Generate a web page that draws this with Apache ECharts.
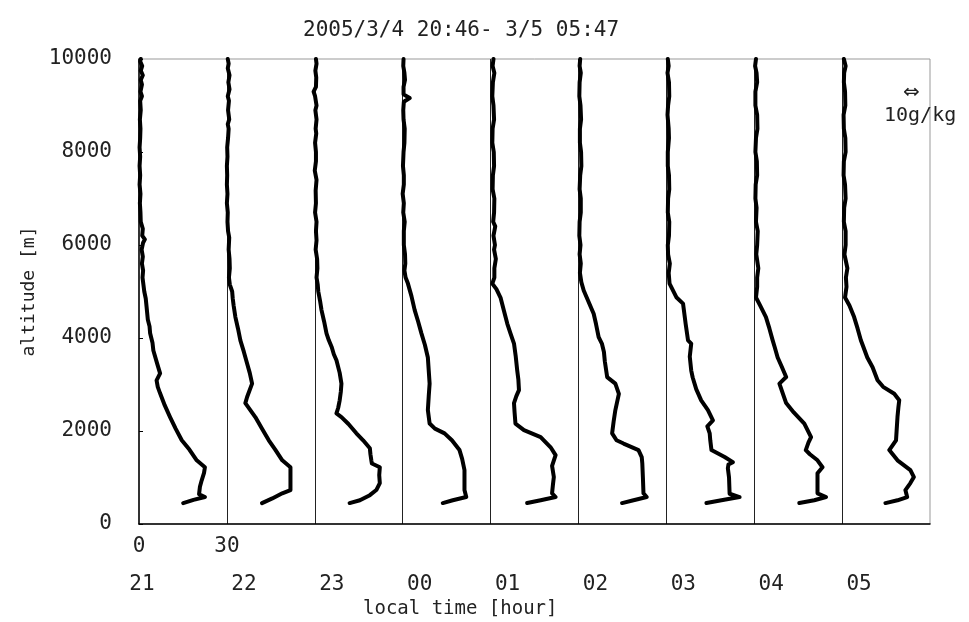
<!DOCTYPE html>
<html>
<head>
<meta charset="utf-8">
<script src="https://cdn.jsdelivr.net/npm/echarts@6/dist/echarts.min.js"></script>
<style>html,body{margin:0;padding:0;background:#fff;}#c{width:969px;height:622px;}</style>
</head>
<body>
<div id="c"></div>
<script>
// ---- data ----
const titleText = '2005/3/4 20:46- 3/5 05:47';
const hourLabels = ['21', '22', '23', '00', '01', '02', '03', '04', '05'];
const scaleLabels = ['0', '30'];           // g/kg scale of one panel
const panelWidth = 30;                     // g/kg per hour panel

// [altitude m, water vapour mixing ratio g/kg] for each launch
const p21 = [[450,15.1],[520,18.6],[580,22.5],[640,20.5],[800,20.8],[940,21.4],[1100,22.2],[1220,22.5],[1370,19.7],[1600,17.2],[1800,14.6],[2050,12.5],[2300,10.6],[2550,8.8],[2810,7.2],[2950,6.4],[3090,6.0],[3240,7.2],[3450,6.2],[3730,4.9],[3900,4.6],[4100,3.8],[4250,3.6],[4400,3.0],[4660,2.6],[4850,2.3],[5000,1.8],[5150,1.5],[5300,1.2],[5450,1.4],[5600,1.0],[5750,1.3],[5900,0.9],[6050,1.4],[6120,2.0],[6200,1.1],[6350,1.3],[6500,0.6],[6700,0.5],[6900,0.3],[7100,0.5],[7300,0.2],[7500,0.4],[7700,0.2],[7900,0.4],[8100,0.2],[8300,0.4],[8500,0.5],[8700,0.3],[8900,0.6],[9100,0.4],[9200,1.0],[9300,0.5],[9450,1.0],[9550,0.6],[9650,1.3],[9750,0.6],[9850,1.1],[9950,0.4],[10000,0.6]];
const p22 = [[450,12.0],[550,15.5],[660,18.9],[730,21.7],[1000,21.7],[1220,21.7],[1370,18.9],[1600,16.5],[1800,14.3],[2050,12.0],[2300,9.7],[2450,8.0],[2600,6.3],[2730,6.9],[3020,8.6],[3250,7.8],[3450,6.9],[3700,5.8],[3950,4.6],[4200,3.8],[4450,2.9],[4700,2.3],[4850,2.0],[5000,1.8],[5150,1.0],[5300,0.7],[5500,1.0],[5700,0.9],[5900,0.6],[6160,0.8],[6300,0.4],[6500,0.2],[6700,0.3],[6900,0.0],[7100,0.2],[7300,0.0],[7500,0.1],[7700,0.0],[7900,0.2],[8100,0.1],[8300,0.4],[8500,0.6],[8600,0.3],[8700,0.8],[8900,0.4],[9100,0.7],[9200,0.3],[9350,0.9],[9500,0.5],[9650,0.9],[9800,0.3],[9900,0.6],[10000,0.3]];
const p23 = [[450,11.9],[510,15.4],[620,18.8],[730,21.0],[880,22.2],[1050,22.0],[1220,22.2],[1300,19.5],[1370,19.3],[1500,19.0],[1630,18.8],[1800,16.5],[1950,14.2],[2150,11.5],[2300,9.1],[2380,7.4],[2500,8.0],[2660,8.5],[2850,8.9],[3020,9.1],[3250,8.5],[3520,7.4],[3650,6.5],[3800,5.8],[3950,4.8],[4100,4.0],[4350,3.2],[4600,2.3],[4800,1.8],[5000,1.2],[5150,1.0],[5300,0.6],[5500,0.9],[5700,0.8],[5900,0.3],[6100,0.6],[6300,0.4],[6500,0.6],[6700,0.1],[6900,0.4],[7170,0.3],[7400,0.6],[7600,0.0],[7800,0.4],[8000,0.4],[8200,0.1],[8400,0.5],[8500,0.3],[8700,0.6],[8900,0.2],[9000,0.6],[9200,0.1],[9300,-0.4],[9400,0.4],[9600,0.5],[9750,0.2],[9900,0.6],[10000,0.4]];
const p00 = [[450,13.7],[510,17.1],[580,21.7],[730,21.1],[950,21.1],[1160,21.1],[1400,20.3],[1590,19.4],[1800,16.8],[1950,14.3],[2050,11.0],[2160,9.2],[2450,8.6],[2750,8.9],[3020,9.2],[3300,8.9],[3580,8.6],[3850,7.6],[4100,6.4],[4350,5.3],[4600,4.1],[4900,3.0],[5170,1.8],[5300,1.0],[5450,0.6],[5600,0.9],[5800,0.8],[6000,0.4],[6300,0.4],[6500,0.7],[6700,0.2],[6900,0.4],[7100,0.0],[7300,0.4],[7500,0.4],[7700,0.1],[8000,0.3],[8200,0.6],[8500,0.7],[8700,0.3],[8900,0.2],[9080,0.4],[9160,2.4],[9240,0.3],[9400,0.3],[9550,0.8],[9700,0.6],[9850,0.2],[10000,0.3]];
const p01 = [[450,12.5],[510,17.1],[580,22.2],[660,21.0],[850,21.3],[1010,21.6],[1250,21.0],[1480,22.2],[1650,20.5],[1870,17.1],[2020,11.4],[2160,8.5],[2400,8.2],[2600,8.0],[2750,8.8],[2880,9.7],[3100,9.5],[3300,9.1],[3600,8.6],[3880,8.0],[4100,6.8],[4310,5.7],[4600,4.5],[4870,3.4],[5050,2.0],[5170,0.6],[5300,1.3],[5500,1.3],[5700,1.8],[5900,1.2],[6000,1.5],[6200,1.0],[6400,1.6],[6500,0.9],[6700,1.2],[7000,1.3],[7200,0.7],[7500,0.8],[7700,1.2],[8000,1.1],[8200,0.6],[8500,0.7],[8700,1.2],[9000,1.0],[9200,0.6],[9500,0.8],[9700,1.3],[9850,0.7],[10000,1.0]];
const p02 = [[450,14.9],[510,18.8],[580,23.3],[660,22.2],[1000,22.0],[1300,21.8],[1440,21.6],[1590,20.5],[1730,15.4],[1800,13.0],[1950,11.5],[2200,12.0],[2450,12.6],[2800,13.8],[3020,12.6],[3160,9.8],[3500,9.0],[3700,8.7],[3880,8.0],[4020,6.9],[4300,6.0],[4520,5.2],[4800,3.3],[5020,1.8],[5200,1.0],[5400,0.5],[5600,0.8],[5800,0.4],[6000,0.7],[6200,0.3],[6500,0.4],[6700,0.8],[7000,0.8],[7200,0.4],[7500,0.6],[7700,1.0],[8000,0.9],[8200,0.5],[8500,0.5],[8700,0.9],[9000,0.7],[9200,0.3],[9500,0.4],[9700,0.8],[9850,0.4],[10000,0.6]];
const p03 = [[450,13.7],[510,18.8],[580,25.0],[650,21.6],[1000,21.4],[1200,21.0],[1280,21.2],[1330,22.7],[1440,19.9],[1590,15.4],[1800,15.0],[1950,14.8],[2100,14.0],[2230,15.9],[2450,14.2],[2660,11.9],[2900,10.2],[3150,9.0],[3300,8.5],[3600,8.0],[3880,8.5],[3950,7.4],[4300,6.6],[4740,5.7],[4870,3.5],[5020,2.3],[5170,1.1],[5400,0.8],[5600,1.2],[5800,0.6],[6000,0.5],[6200,0.9],[6500,1.0],[6700,0.5],[7000,0.6],[7200,1.0],[7500,0.9],[7700,0.5],[8000,0.5],[8300,0.9],[8500,0.8],[8800,0.4],[9000,0.6],[9200,1.0],[9500,0.9],[9700,0.4],[9850,0.8],[10000,0.5]];
const p04 = [[450,15.4],[510,20.5],[580,24.5],[660,21.6],[1090,21.6],[1220,23.3],[1370,21.6],[1500,19.0],[1590,17.6],[1750,18.5],[1870,19.4],[2160,17.1],[2400,13.5],[2600,10.9],[2800,9.8],[3020,8.6],[3160,10.9],[3380,9.4],[3580,8.0],[3800,7.0],[3950,6.3],[4200,5.2],[4450,4.0],[4700,2.0],[4870,0.6],[5100,1.0],[5300,1.0],[5500,1.4],[5800,0.7],[6000,1.0],[6300,1.2],[6500,0.6],[6800,0.8],[7000,0.4],[7300,0.5],[7500,1.0],[7800,0.9],[8000,0.4],[8300,0.6],[8500,1.1],[8800,1.0],[9000,0.4],[9300,0.4],[9500,1.0],[9700,0.8],[9850,0.3],[10000,0.6]];
const p05 = [[450,14.8],[510,18.9],[580,22.2],[730,21.6],[880,23.3],[1010,24.5],[1160,23.3],[1370,18.9],[1590,16.1],[1800,18.4],[2000,18.6],[2300,18.9],[2500,19.2],[2660,19.5],[2800,17.8],[2950,14.0],[3090,12.1],[3370,10.4],[3580,8.6],[3800,7.3],[3950,6.4],[4200,5.3],[4450,4.1],[4700,2.5],[4870,1.0],[5100,1.5],[5300,1.3],[5500,1.8],[5800,0.8],[6000,1.2],[6300,1.2],[6500,0.6],[6800,0.7],[7000,1.2],[7300,1.0],[7500,0.5],[7800,0.6],[8000,1.2],[8300,1.1],[8500,0.6],[8800,0.5],[9000,1.1],[9300,1.0],[9500,0.6],[9700,0.7],[9850,1.2],[10000,0.6]];

const profiles = [p21, p22, p23, p00, p01, p02, p03, p04, p05];

// ---- chart ----
const FONT = 'DejaVu Sans Mono';
const TXT = '#222';
const xMax = panelWidth * hourLabels.length;

const series = profiles.map((prof, i) => ({
  type: 'line',
  showSymbol: false,
  silent: true,
  animation: false,
  lineStyle: { color: '#000', width: 4, join: 'round', cap: 'round' },
  data: prof.map(([a, q]) => [i * panelWidth + q, a])
}));

const chart = echarts.init(document.getElementById('c'), null, { renderer: 'canvas' });
chart.setOption({
  animation: false,
  backgroundColor: '#fff',
  title: [
    { text: titleText, left: 298, top: 15,
      textStyle: { fontFamily: FONT, fontSize: 21, fontWeight: 'normal', color: TXT } },
    { text: 'local time [hour]', left: 358, top: 595,
      textStyle: { fontFamily: FONT, fontSize: 19, fontWeight: 'normal', color: TXT } }
  ],
  grid: { left: 139, right: 39, top: 59, bottom: 98, show: true, borderColor: '#999', borderWidth: 1, backgroundColor: '#fff' },
  xAxis: [
    {
      type: 'value', min: 0, max: xMax, interval: panelWidth, position: 'bottom',
      axisLine: { show: true, onZero: false, lineStyle: { color: '#000', width: 1.5 } },
      axisTick: { show: false },
      splitLine: { show: true, showMinLine: false, showMaxLine: false, lineStyle: { color: '#222', width: 1 } },
      axisLabel: {
        margin: 12, color: TXT, fontFamily: FONT, fontSize: 21,
        formatter: (v) => { const k = Math.round(v / panelWidth); return k < scaleLabels.length ? scaleLabels[k] : ''; }
      }
    },
    {
      type: 'value', min: 0, max: xMax, interval: panelWidth, position: 'bottom',
      axisLine: { show: false }, axisTick: { show: false }, splitLine: { show: false },
      axisLabel: {
        margin: 50, color: TXT, fontFamily: FONT, fontSize: 21,
        showMaxLabel: false,
        formatter: (v) => {
          const k = Math.round(v / panelWidth);
          if (k >= hourLabels.length) return '';
          return k === 0 ? '{a|' + hourLabels[k] + '}' : '{b|' + hourLabels[k] + '}';
        },
        rich: {
          a: { fontFamily: FONT, fontSize: 21, color: TXT, padding: [0, 0, 0, 6] },
          b: { fontFamily: FONT, fontSize: 21, color: TXT, padding: [0, 0, 0, 34] }
        }
      }
    }
  ],
  yAxis: {
    type: 'value', min: 0, max: 10000, interval: 2000,
    name: 'altitude [m]', nameLocation: 'middle', nameGap: 90, nameRotate: 90,
    nameTextStyle: { fontFamily: FONT, fontSize: 18, color: TXT },
    axisLine: { show: true, lineStyle: { color: '#000', width: 1.5 } },
    axisTick: { show: true, inside: true, length: 4, lineStyle: { color: '#000' } },
    splitLine: { show: false },
    axisLabel: { margin: 27, color: TXT, fontFamily: FONT, fontSize: 21, formatter: (v) => String(v) }
  },
  graphic: [
    { type: 'text', left: 903, top: 83, style: { text: '⇔', font: '20px "DejaVu Sans"', fill: TXT } },
    { type: 'text', left: 884, top: 106, style: { text: '10g/kg', font: '20px ' + FONT, fill: TXT } }
  ],
  series: series
});
</script>
</body>
</html>
